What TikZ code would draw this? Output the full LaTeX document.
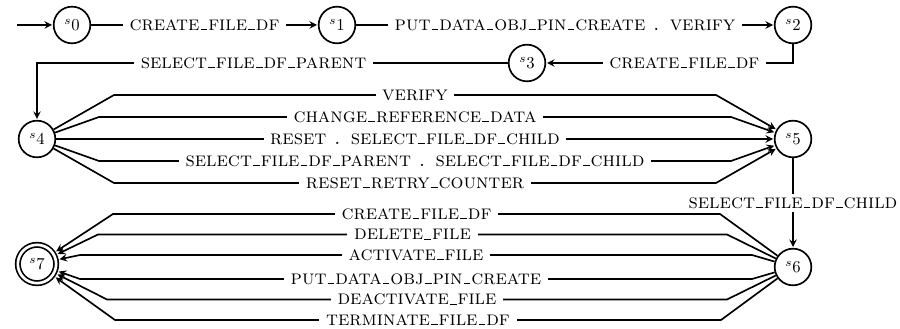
\documentclass[tikz,border=0pt]{standalone}
\usepackage{amsmath}
\usepackage{tikz}
\usetikzlibrary{automata,positioning}

\newcommand{\usbar}{\kern.05em\rule{.33em}{.7pt}\kern.05em}

\begin{document}
\begin{tikzpicture}[>=stealth, line width=1pt, shorten >=0.5pt, node distance=2cm, on grid,
   every state/.style={minimum size=22pt, inner sep=0pt},
   act/.style={fill=white, inner xsep=4pt, inner ysep=2pt, font=\fontsize{12.2}{14}\selectfont\scshape}]
   \node[state] (s0) {$^{s}0$};
   \node[state] (s1) [right=159pt of s0] {$^{s}1$};
   \node[state] (s2) [right=273.6pt of s1] {$^{s}2$};
   \node[state] (s3) [below left=22.8pt and 159.6pt of s2] {$^{s}3$};
   \node[state] (s4) [below left=68.4pt and 21pt of s0] {$^{s}4$};
   \node[state] (s5) [below=68.4pt of s2] {$^{s}5$};
   \node[state] (s6) [below=76.8pt of s5] {$^{s}6$};
   \node[state, double, double distance=1.6pt, minimum size=23pt, outer sep=1.8pt]
      (s7) [below=75pt of s4] {$^{s}7$};
   \coordinate[left=33pt of s0] (in);

   \useasboundingbox (s0.center) ++(-43.2pt,15pt) rectangle ++(540pt,-197.4pt);

   \draw[->] (in) -- (s0);
   \path[->]
   (s0) edge node[act] {create\usbar file\usbar df} (s1)
   (s1) edge node[act] {put\usbar data\usbar obj\usbar pin\usbar create . verify} (s2);
   \draw[->] (s2) |- node[act, pos=0.72] {create\usbar file\usbar df} (s3);
   \draw[->] (s3) -| node[act, pos=0.27] {select\usbar file\usbar df\usbar parent} (s4);

   % s4 to s5
   \draw[->] (s4) -- ++(46.2pt,26.4pt) -- node[act] {verify} ++(361.2pt,0) -- (s5);
   \draw[->] (s4) -- ++(37.2pt,13.2pt) -- node[act] {change\usbar reference\usbar data} ++(379.2pt,0) -- (s5);
   \draw[->] (s4) -- node[act] {reset . select\usbar file\usbar df\usbar child} (s5);
   \draw[->] (s4) -- ++(37.2pt,-13.2pt) -- node[act] {select\usbar file\usbar df\usbar parent . select\usbar file\usbar df\usbar child} ++(379.2pt,0) -- (s5);
   \draw[->] (s4) -- ++(46.2pt,-26.4pt) -- node[act] {reset\usbar retry\usbar counter} ++(361.2pt,0) -- (s5);

   \draw[->] (s5) -- node[act] {select\usbar file\usbar df\usbar child} (s6);

   % s6 to s7
   \draw[->] (s6) -- ++(-43.8pt,31.8pt) -- node[act] {create\usbar file\usbar df} ++(-364.2pt,0) -- (s7);
   \draw[->] (s6) -- ++(-39.6pt,19.5pt) -- node[act] {delete\usbar file} ++(-377.4pt,0) -- (s7);
   \draw[->] (s6) -- ++(-24.6pt,7.2pt) -- node[act] {activate\usbar file} ++(-403.2pt,0) -- (s7);
   \draw[->] (s6) -- ++(-24.6pt,-7.2pt) -- node[act] {put\usbar data\usbar obj\usbar pin\usbar create} ++(-403.2pt,0) -- (s7);
   \draw[->] (s6) -- ++(-39.6pt,-19.5pt) -- node[act] {deactivate\usbar file} ++(-372pt,0) -- (s7);
   \draw[->] (s6) -- ++(-43.2pt,-31.8pt) -- node[act] {terminate\usbar file\usbar df} ++(-363.6pt,0) -- (s7);
\end{tikzpicture}
\end{document}
